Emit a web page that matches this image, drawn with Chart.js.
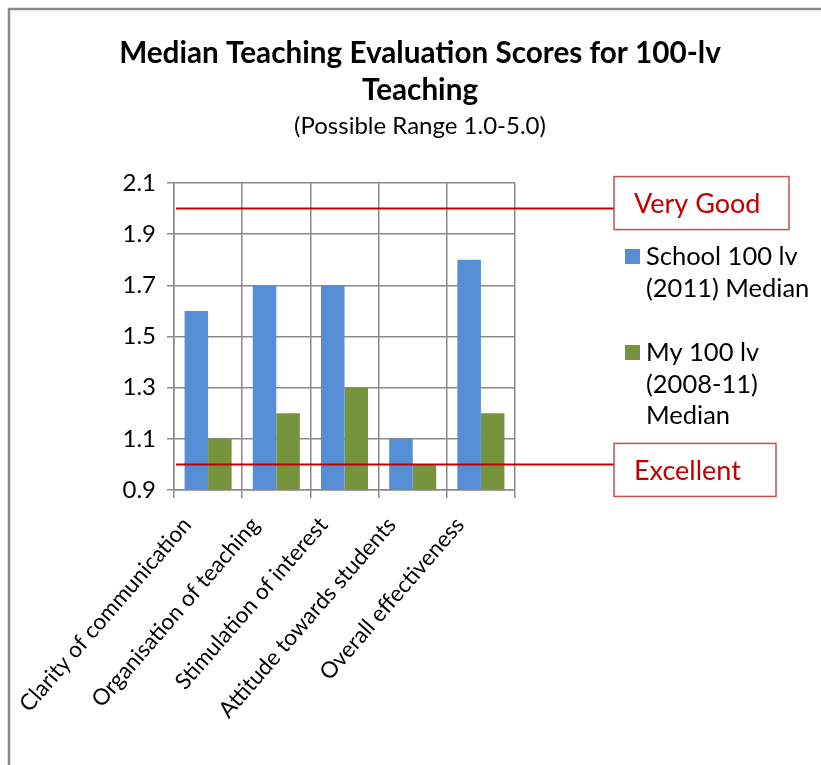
<!DOCTYPE html>
<html>
<head>
<meta charset="utf-8">
<script src="https://cdn.jsdelivr.net/npm/chart.js@4"></script>
<style>
  body { margin: 0; background: #fff; }
  canvas { display: block; }
</style>
</head>
<body>
<canvas id="scores" width="821" height="765"></canvas>
<script>
var categories = ['Clarity of communication', 'Organisation of teaching', 'Stimulation of interest', 'Attitude towards students', 'Overall effectiveness'];
var schoolMedian = [1.6, 1.7, 1.7, 1.1, 1.8];
var myMedian = [1.1, 1.2, 1.3, 1.0, 1.2];
var seriesLines = [['School 100 lv', '(2011) Median'], ['My 100 lv', '(2008-11)', 'Median']];
var seriesColors = ['#558ED5', '#77933C'];
var refValues = [2.0, 1.0];
var refLabels = ['Very Good', 'Excellent'];
var yTicks = [0.9, 1.1, 1.3, 1.5, 1.7, 1.9, 2.1];
var titleLines = ['Median Teaching Evaluation Scores for 100-lv', 'Teaching'];
var subtitleText = '(Possible Range 1.0-5.0)';

// frame, titles, reference lines with their boxes, and the legend
var extras = {
    id: 'extras',
    beforeDraw: function(chart) {
        var c = chart.ctx;
        c.save();
        c.strokeStyle = '#8a8a8a';
        c.lineWidth = 2.5;
        c.beginPath();
        c.moveTo(9, 765);
        c.lineTo(9, 9);
        c.lineTo(821, 9);
        c.stroke();

        c.fillStyle = '#000';
        c.textAlign = 'center';
        c.textBaseline = 'middle';
        c.font = 'bold 29.7px Lato';
        c.fillText(titleLines[0], 420, 53);
        c.fillText(titleLines[1], 420, 90);
        c.font = '24px Lato';
        c.fillText(subtitleText, 420, 126);
        c.restore();
    },
    afterDatasetsDraw: function(chart) {
        var c = chart.ctx;
        var area = chart.chartArea;
        var y = chart.scales.y;
        var boxW = [175, 162];
        c.save();
        refValues.forEach(function(v, i) {
            var py = y.getPixelForValue(v);
            c.strokeStyle = '#C00000';
            c.lineWidth = 2;
            c.beginPath();
            c.moveTo(area.left + 2, py);
            c.lineTo(614, py);
            c.stroke();
            var top = py - 32 + i * 11;
            c.fillStyle = '#fff';
            c.fillRect(614, top, boxW[i], 53);
            c.strokeStyle = '#C0504D';
            c.lineWidth = 1.5;
            c.strokeRect(614, top, boxW[i], 53);
            c.fillStyle = '#C00000';
            c.font = '27px Lato';
            c.textBaseline = 'middle';
            c.fillText(refLabels[i], 634, top + 28);
        });
        // legend
        var starts = [257, 353];
        c.font = '25.5px Lato';
        c.textBaseline = 'middle';
        seriesLines.forEach(function(lines, i) {
            c.fillStyle = seriesColors[i];
            c.fillRect(625, starts[i] - 8, 15, 15);
            c.fillStyle = '#000';
            lines.forEach(function(t, k) {
                c.fillText(t, 646, starts[i] + k * 31.5);
            });
        });
        c.restore();
    }
};

new Chart(document.getElementById('scores').getContext('2d'), {
    type: 'bar',
    data: {
        labels: categories,
        datasets: [{
            label: seriesLines[0].join(' '),
            data: schoolMedian,
            backgroundColor: seriesColors[0],
            categoryPercentage: 0.69,
            barPercentage: 1.0
        },
        {
            label: seriesLines[1].join(' '),
            data: myMedian,
            backgroundColor: seriesColors[1],
            categoryPercentage: 0.69,
            barPercentage: 1.0
        }]
    },
    options: {
        responsive: false,
        animation: false,
        devicePixelRatio: 1,
        layout: {
            padding: { left: 20, right: 306, top: 183, bottom: 0 }
        },
        plugins: {
            legend: { display: false },
            tooltip: { enabled: false },
            title: { display: false }
        },
        scales: {
            x: {
                grid: { color: '#8a8a8a', lineWidth: 1.5, tickLength: 8, offset: true },
                border: { color: '#8a8a8a', width: 1.5 },
                afterFit: function(axis) {
                    axis.height = 275;
                    axis.paddingLeft = 0;
                    axis.paddingRight = 0;
                },
                ticks: {
                    color: '#000',
                    font: { family: 'Lato', size: 22.5 },
                    minRotation: 49,
                    maxRotation: 49,
                    padding: 14,
                    labelOffset: -21
                }
            },
            y: {
                min: 0.9,
                max: 2.1,
                afterBuildTicks: function(axis) {
                    axis.ticks = yTicks.map(function(v) { return { value: v }; });
                },
                afterFit: function(axis) {
                    axis.width = 154;
                },
                grid: { color: '#8a8a8a', lineWidth: 1.5, tickLength: 7 },
                border: { color: '#8a8a8a', width: 1.5 },
                ticks: {
                    color: '#000',
                    font: { family: 'Lato', size: 24 },
                    padding: 11,
                    callback: function(v) { return Number(v).toFixed(1); }
                }
            }
        }
    },
    plugins: [extras]
});
</script>
</body>
</html>
